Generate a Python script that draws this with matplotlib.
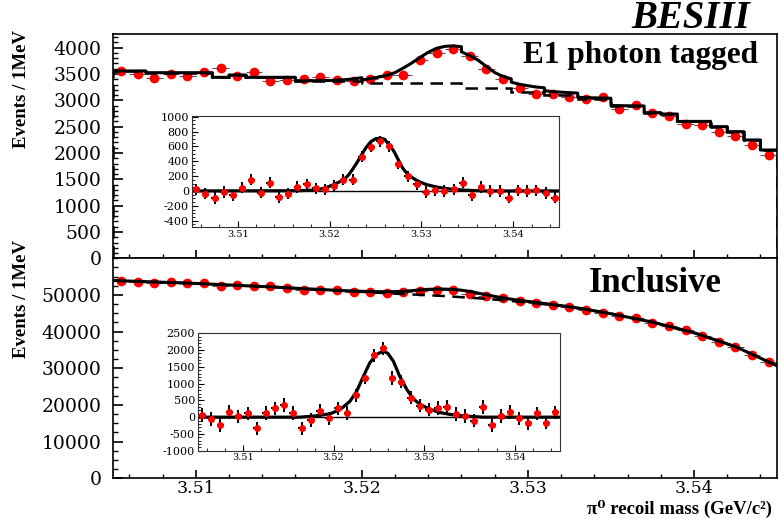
import numpy as np
import matplotlib
matplotlib.use("Agg")
import matplotlib.pyplot as plt
from matplotlib.ticker import MultipleLocator, FixedLocator

# ---------------- data ----------------
bin_edges = np.linspace(3.505, 3.545, 41)
bin_centers = 0.5 * (bin_edges[:-1] + bin_edges[1:])

# E1 photon tagged: data per 1 MeV bin
top_data = [3563, 3500, 3430, 3500, 3468, 3544, 3609, 3468, 3544, 3373,
            3386, 3411, 3437, 3386, 3361, 3399, 3475, 3475, 3760, 3893,
            3975, 3848, 3590, 3399, 3240, 3121, 3121, 3070, 3032, 3070,
            2836, 2912, 2754, 2703, 2545, 2532, 2405, 2329, 2152, 1962]
# background (stepped) per bin
top_bg = [3558, 3558, 3525, 3525, 3525, 3525, 3437, 3481, 3437, 3437,
          3437, 3367, 3367, 3367, 3367, 3323, 3323, 3323, 3323, 3323,
          3323, 3228, 3228, 3228, 3165, 3165, 3110, 3110, 3030, 3030,
          2893, 2893, 2766, 2740, 2600, 2600, 2500, 2405, 2247, 2057]
# fitted signal shape (top)
top_sig_x = [3.505, 3.5165, 3.5170, 3.5175, 3.5180, 3.5185, 3.5190, 3.5195,
             3.5200, 3.5205, 3.5210, 3.5215, 3.5220, 3.5225, 3.5230, 3.5235,
             3.5240, 3.5245, 3.5250, 3.5255, 3.5260, 3.5265, 3.5270, 3.5275,
             3.5280, 3.5285, 3.5290, 3.5295, 3.5300, 3.5305, 3.5310, 3.5315,
             3.5320, 3.5325, 3.5330, 3.5335, 3.5340, 3.5345, 3.5350, 3.5355,
             3.5360, 3.5365, 3.5370, 3.545]
top_sig_y = [0, 3, 5, 7, 10, 17, 25, 42,
             63, 88, 118, 150, 205, 290, 385, 490,
             590, 665, 702, 712, 695, 620, 535, 415,
             300, 225, 180, 140, 112, 88, 72, 57,
             45, 36, 28, 22, 17, 13, 9, 6,
             4, 2, 0, 0]
# background-subtracted data (top inset)
top_sub = [23, -36, -95, -14, -59, 45, 153, -23, 113, -81,
           -36, 54, 90, 36, 23, 68, 153, 153, 459, 595,
           671, 604, 369, 198, 90, -14, 9, 0, 23, 113,
           -59, 54, 0, 0, -90, 9, 0, 9, -27, -90]
top_sub_err = 75

# Inclusive: data per bin
bot_data = [53800, 53620, 53350, 53530, 53170, 53170, 52440, 52720, 52530, 52530,
            51900, 51270, 51270, 51270, 50720, 50900, 50450, 50810, 51080, 51350,
            51350, 50260, 49800, 49090, 48350, 47720, 47260, 46800, 45900, 45200,
            44200, 43700, 42350, 41450, 40440, 38850, 37100, 35720, 33620, 31800]
bot_bg_x = [3.505, 3.510, 3.515, 3.520, 3.5225, 3.525, 3.5275, 3.530,
            3.5325, 3.535, 3.5375, 3.540, 3.5425, 3.545]
bot_bg_y = [53950, 53150, 52100, 50850, 50250, 49700, 48950, 47950,
            46750, 44900, 42600, 39700, 35900, 30700]
bot_tot_x = [3.505, 3.510, 3.515, 3.5163, 3.5181, 3.5196, 3.5207, 3.5218,
             3.52255, 3.5233, 3.5240, 3.52475, 3.5255, 3.5260, 3.5266, 3.5273,
             3.5281, 3.5288, 3.5295, 3.5306, 3.5317, 3.5329, 3.5347, 3.5375,
             3.540, 3.5425, 3.545]
bot_tot_y = [53950, 53150, 52100, 51775, 51365, 51050, 50900, 50890,
             51010, 51295, 51540, 51625, 51520, 51300, 50890, 50230,
             49530, 48980, 48540, 47900, 47275, 46535, 45150, 42600,
             39700, 35900, 30700]
bot_sig_x = [3.505, 3.5163, 3.5181, 3.5196, 3.5207, 3.5218, 3.52255, 3.5233,
             3.5240, 3.52475, 3.5255, 3.5260, 3.5266, 3.5273, 3.5281, 3.5288,
             3.5295, 3.5306, 3.5317, 3.5329, 3.5347, 3.5365, 3.545]
bot_sig_y = [0, 0, 40, 100, 220, 470, 770, 1220,
             1620, 1870, 1970, 1900, 1670, 1220, 820, 550,
             390, 240, 140, 80, 30, 0, 0]
bot_sub = [70, -50, -240, 150, 20, 110, -330, 120, 260, 360,
           120, -330, -80, 180, -40, 260, 130, 650, 1180, 1840,
           2050, 1170, 1060, 580, 340, 220, 270, 300, 100, 30,
           -100, 300, -240, 40, 150, -40, -180, 110, -160, 140]
bot_sub_err = 200

# ---------------- figure ----------------
fig = plt.figure(figsize=(7.78, 5.19), dpi=100)
ax1 = fig.add_axes([0.1449, 0.5023, 0.8538, 0.4322])
ax2 = fig.add_axes([0.1449, 0.0784, 0.8538, 0.4239])

RED = '#ff0000'
tickfont = dict(family='DejaVu Serif', size=13.5)
SERIF = ['Liberation Serif', 'DejaVu Serif']

def style_main(ax):
    for s in ax.spines.values():
        s.set_linewidth(1.2)
        s.set_color('black')
    ax.set_xlim(3.505, 3.545)
    ax.xaxis.set_major_locator(FixedLocator([3.51, 3.52, 3.53, 3.54]))
    ax.xaxis.set_minor_locator(MultipleLocator(0.002))
    ax.tick_params(axis='both', which='both', direction='in', top=False, right=False)
    ax.tick_params(axis='x', which='major', length=6, width=1.2, pad=1)
    ax.tick_params(axis='x', which='minor', length=3, width=1.0)
    ax.tick_params(axis='y', which='major', length=7, width=1.2, pad=8)
    ax.tick_params(axis='y', which='minor', length=3.5, width=1.0)

# top main
ax1.errorbar(bin_centers, top_data, xerr=0.0005, yerr=60, fmt='o', color=RED,
             ecolor='#555555', elinewidth=0.8, markersize=6, capsize=0, zorder=2)
ax1.stairs(top_bg, bin_edges, color='black', linestyle=(0, (5, 3)), linewidth=1.8, zorder=3)
sig_lookup = {round(x, 4): y for x, y in zip(top_sig_x, top_sig_y)}
tx, ty = [], []
for i in range(len(top_bg)):
    l, r = bin_edges[i], bin_edges[i + 1]
    for x in (l, 0.5 * (l + r), r):
        tx.append(x)
        ty.append(top_bg[i] + sig_lookup.get(round(x, 4), 0.0))
ax1.plot(tx, ty, color='black', linewidth=2.2, zorder=4)
ax1.set_ylim(0, 4260)
ax1.yaxis.set_minor_locator(MultipleLocator(100))
style_main(ax1)
ax1.set_xticklabels([])
ax1.set_yticks(np.arange(0, 4001, 500))
ax1.set_yticklabels([str(v) for v in range(0, 4001, 500)], **tickfont)

# bottom main
ax2.errorbar(bin_centers, bot_data, xerr=0.0005, yerr=230, fmt='o', color=RED,
             ecolor='#555555', elinewidth=0.8, markersize=6, capsize=0, zorder=2)
ax2.plot(bot_bg_x, bot_bg_y, color='black', linestyle=(0, (5, 3)), linewidth=1.8, zorder=3)
ax2.plot(bot_tot_x, bot_tot_y, color='black', linewidth=2.2, zorder=4)
ax2.set_ylim(0, 60000)
style_main(ax2)
ax2.set_yticks(np.arange(0, 50001, 10000))
ax2.set_yticklabels([str(v) for v in range(0, 50001, 10000)], **tickfont)
ax2.yaxis.set_minor_locator(MultipleLocator(2500))
ax2.set_xticklabels(['3.51', '3.52', '3.53', '3.54'], family='DejaVu Serif', size=12.5)

# insets
def style_inset(ax, ylo, yhi, minor, labels):
    ax.set_xlim(3.505, 3.545)
    ax.set_ylim(ylo, yhi)
    ax.axhline(0, color='black', linewidth=1.0, zorder=1)
    for s in ax.spines.values():
        s.set_linewidth(0.8)
        s.set_color('#333333')
    ax.xaxis.set_major_locator(FixedLocator([3.51, 3.52, 3.53, 3.54]))
    ax.xaxis.set_minor_locator(MultipleLocator(0.002))
    ax.yaxis.set_major_locator(FixedLocator(labels))
    ax.yaxis.set_minor_locator(MultipleLocator(minor))
    ax.tick_params(axis='both', which='both', direction='in', top=False, right=False)
    ax.tick_params(axis='both', which='major', length=4, width=0.8, pad=2)
    ax.tick_params(axis='both', which='minor', length=2, width=0.6)
    ax.set_xticklabels(['3.51', '3.52', '3.53', '3.54'], family='DejaVu Serif', size=7)
    ax.set_yticklabels([str(v) for v in labels], family='DejaVu Serif', size=8)

ins1 = fig.add_axes([0.2464, 0.562, 0.4725, 0.2145])
ins1.errorbar(bin_centers, top_sub, xerr=0.0004, yerr=top_sub_err, fmt='o', color=RED,
              ecolor='black', elinewidth=1.4, markersize=4, capsize=0, zorder=3)
ins1.plot(top_sig_x, top_sig_y, color='black', linewidth=2.3, zorder=2)
style_inset(ins1, -490, 1010, 50, list(range(-400, 1001, 200)))

ins2 = fig.add_axes([0.2541, 0.1316, 0.4657, 0.2262])
ins2.errorbar(bin_centers, bot_sub, xerr=0.0004, yerr=bot_sub_err, fmt='o', color=RED,
              ecolor='black', elinewidth=1.4, markersize=4, capsize=0, zorder=3)
ins2.plot(bot_sig_x, bot_sig_y, color='black', linewidth=2.3, zorder=2)
style_inset(ins2, -1000, 2500, 100, list(range(-1000, 2501, 500)))

# texts
fig.text(750 / 778, 1 - 19 / 519, 'BESIII', family=SERIF, weight='bold', style='italic',
         size=28, ha='right', va='center')
fig.text(758 / 778, 1 - 55 / 519, 'E1 photon tagged', family=SERIF, weight='bold',
         size=22.5, ha='right', va='center')
fig.text(722 / 778, 1 - 283 / 519, 'Inclusive', family=SERIF, weight='bold',
         size=25, ha='right', va='center')
fig.text(0.027, 1 - 30 / 519, 'Events / 1MeV', family=SERIF, weight='bold',
         size=13.5, rotation=90, ha='center', va='top')
fig.text(0.027, 1 - 240 / 519, 'Events / 1MeV', family=SERIF, weight='bold',
         size=13.5, rotation=90, ha='center', va='top')
fig.text(0.992, 1 / 519, 'π\u2070 recoil mass (GeV/c\u00b2)', family=SERIF,
         weight='bold', size=13.5, ha='right', va='bottom')

fig.savefig('out.png', dpi=100)
